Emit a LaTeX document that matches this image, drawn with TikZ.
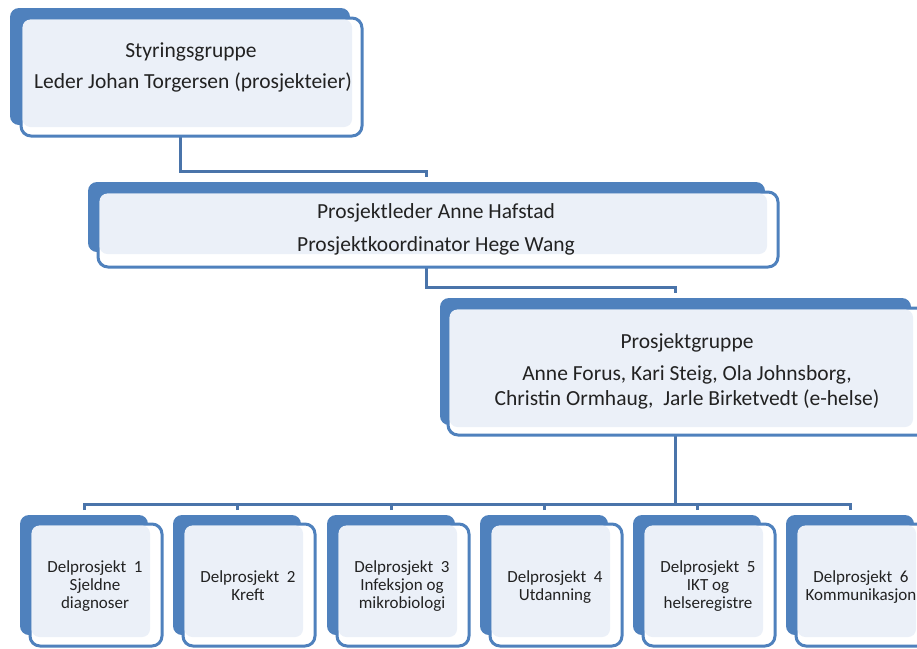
\documentclass[tikz,border=0pt]{standalone}
\usepackage{fontspec}
\setmainfont{Carlito}
\usetikzlibrary{backgrounds}
\definecolor{orgblue}{HTML}{4F81BD}
\definecolor{connblue}{HTML}{4A74AA}
\definecolor{lightfill}{HTML}{EBF0F8}
\definecolor{txt}{HTML}{222222}
\tikzset{
  backbox/.style={fill=orgblue, draw=none, rounded corners=9pt, inner sep=0pt, outer sep=0pt},
  frontbox/.style={fill=white, draw=orgblue, line width=3pt, rounded corners=10pt, inner sep=0pt, outer sep=0pt},
  innerfill/.style={fill=lightfill, rounded corners=8pt},
  conn/.style={draw=connblue, line width=3pt},
  bigtxt/.style={anchor=base, text=txt, inner sep=0pt, font=\fontsize{21.5}{25}\selectfont},
  smalltxt/.style={anchor=base, text=txt, inner sep=0pt, font=\fontsize{17}{19}\selectfont},
}
% name, back x0,y0,x1,y1, front x0,y0,x1,y1
\newcommand\orgbox[9]{%
  \node[backbox, minimum width={#4-#2}, minimum height={#5-#3}] (#1b) at ({(#2+#4)/2},{(#3+#5)/2}) {};
  \node[frontbox, minimum width={#8-#6}, minimum height={#9-#7}] (#1f) at ({(#6+#8)/2},{(#7+#9)/2}) {};
  \fill[innerfill] ({#6+1.5},{#7+1.5}) rectangle ({#4+2},{#5+2});
}
\begin{document}
\begin{tikzpicture}[x=1pt,y=-1pt]
\useasboundingbox (0,0) rectangle (917,648);
\clip (0,0) rectangle (917,648);

\orgbox{s}{10}{8}{350}{125}{21}{18}{362}{136}
\orgbox{p}{88}{182}{765}{252}{98}{192}{778}{267}
\orgbox{g}{440}{298}{911}{425}{448}{308}{932}{435}
\orgbox{da}{20}{515}{148}{635}{30}{524}{162}{646}
\orgbox{db}{173}{515}{301}{635}{183}{524}{315}{646}
\orgbox{dc}{327}{515}{455}{635}{337}{524}{469}{646}
\orgbox{dd}{480}{515}{608}{635}{490}{524}{622}{646}
\orgbox{de}{633}{515}{761}{635}{643}{524}{775}{646}
\orgbox{df}{786}{515}{914}{635}{796}{524}{928}{646}

\begin{scope}[on background layer]
  \draw[conn] (sb.south) -- ++(0,46) -| ([yshift=5pt]pb.north);
  \draw[conn] (pb.south) -- ++(0,35) -| ([yshift=5pt]gb.north);
  \draw[conn] (gb.south) -- ++(0,79) coordinate (hub);
  \draw[conn] ([yshift=5pt]dab.north) |- (hub);
  \draw[conn] ([yshift=5pt]dfb.north) |- (hub);
  \foreach \c in {db,dc,dd,de}
    \draw[conn] ([yshift=5pt]\c b.north) |- (hub);
\end{scope}

\node[bigtxt] (s1) at (191,57) {Styringsgruppe};
\node[bigtxt] (s2) at (193,88) {Leder Johan Torgersen (prosjekteier)};

\node[bigtxt] (p1) at (436,218) {Prosjektleder Anne Hafstad};
\node[bigtxt] (p2) at (436,251) {Prosjektkoordinator Hege Wang};

\node[bigtxt] (g1) at (687,348) {Prosjektgruppe};
\node[bigtxt] (g2) at (687,380) {Anne Forus, Kari Steig, Ola Johnsborg,};
\node[bigtxt] (g3) at (687,405) {Christin Ormhaug,~ Jarle Birketvedt (e-helse)};

\node[smalltxt] (a1) at (95,572) {Delprosjekt~~1};
\node[smalltxt] (a2) at (95,590) {Sjeldne};
\node[smalltxt] (a3) at (95,608) {diagnoser};

\node[smalltxt] (b1) at (248,582) {Delprosjekt~~2};
\node[smalltxt] (b2) at (248,600) {Kreft};

\node[smalltxt] (c1) at (402,572) {Delprosjekt~~3};
\node[smalltxt] (c2) at (402,590) {Infeksjon og};
\node[smalltxt] (c3) at (402,608) {mikrobiologi};

\node[smalltxt] (d1) at (555,582) {Delprosjekt~~4};
\node[smalltxt] (d2) at (555,600) {Utdanning};

\node[smalltxt] (e1) at (708,572) {Delprosjekt~~5};
\node[smalltxt] (e2) at (708,590) {IKT og};
\node[smalltxt] (e3) at (708,608) {helseregistre};

\node[smalltxt] (f1) at (861,582) {Delprosjekt~~6};
\node[smalltxt] (f2) at (861,600) {Kommunikasjon};
\end{tikzpicture}
\end{document}
